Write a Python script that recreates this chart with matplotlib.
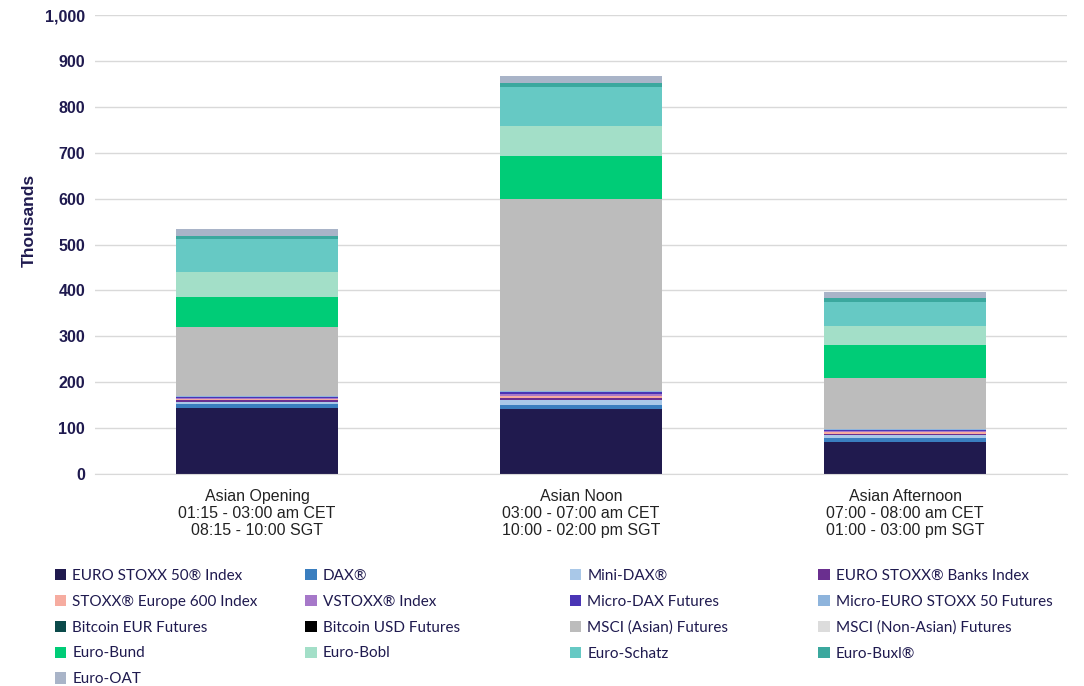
import matplotlib.pyplot as plt
import numpy as np

# --- Data (thousands) ---
sessions = ['Asian Opening\n01:15 - 03:00 am CET\n08:15 - 10:00 SGT',
            'Asian Noon\n03:00 - 07:00 am CET\n10:00 - 02:00 pm SGT',
            'Asian Afternoon\n07:00 - 08:00 am CET\n01:00 - 03:00 pm SGT']

products = ['EURO STOXX 50\u00ae Index', 'DAX\u00ae', 'Mini-DAX\u00ae', 'EURO STOXX\u00ae Banks Index',
            'STOXX\u00ae Europe 600 Index', 'VSTOXX\u00ae Index', 'Micro-DAX Futures',
            'Micro-EURO STOXX 50 Futures', 'Bitcoin EUR Futures', 'Bitcoin USD Futures',
            'MSCI (Asian) Futures', 'MSCI (Non-Asian) Futures', 'Euro-Bund', 'Euro-Bobl',
            'Euro-Schatz', 'Euro-Buxl\u00ae', 'Euro-OAT']

euro_stoxx50 = [143, 141, 70]
dax = [9, 9, 9]
mini_dax = [6, 11, 6]
banks = [3, 5, 3]
stoxx600 = [3, 4, 3]
vstoxx = [2, 4, 2]
micro_dax = [2, 5, 3]
micro_esx50 = [2, 1, 2]
btc_eur = [0.3, 0.3, 0.3]
btc_usd = [0.3, 0.3, 0.3]
msci_asian = [150, 418, 111]
msci_non_asian = [0.5, 0.5, 0.5]
bund = [65, 93, 70]
bobl = [55, 66, 43]
schatz = [70, 86, 52]
buxl = [8, 9, 9]
oat = [14, 14, 13]

series = [euro_stoxx50, dax, mini_dax, banks, stoxx600, vstoxx, micro_dax, micro_esx50,
          btc_eur, btc_usd, msci_asian, msci_non_asian, bund, bobl, schatz, buxl, oat]

colors = ['#201a4e', '#3a7ebf', '#a9c8e8', '#6a2f8f', '#f6aca0', '#a678c9', '#4a35b5',
          '#8eb4dc', '#0b4a4a', '#000000', '#bcbcbc', '#dcdcdc', '#00cc77', '#a3dfc8',
          '#66c9c4', '#3ba89e', '#a9b4c8']

plt.rcParams['font.family'] = ['Liberation Sans', 'DejaVu Sans']

fig = plt.figure(figsize=(10.84, 6.86), dpi=100)
ax = fig.add_axes([0.0876, 0.309, 0.897, 0.669])

x = np.arange(len(sessions))
bottom = np.zeros(len(sessions))
handles = []
for name, vals, c in zip(products, series, colors):
    b = ax.bar(x, vals, 0.5, bottom=bottom, color=c, label=name, edgecolor='none')
    handles.append(b)
    bottom += np.array(vals)

ax.set_xlim(-0.5, 2.5)
ax.set_ylim(0, 1000)
ax.set_yticks(np.arange(0, 1001, 100))
ax.set_yticklabels([f'{v:,}' for v in range(0, 1001, 100)], fontsize=11.5,
                   fontweight='bold', color='#1f1a4f')
ax.set_xticks(x)
ax.set_xticklabels(sessions, fontsize=11.5, color='#222222', linespacing=1.15)
ax.tick_params(axis='both', length=0)
ax.tick_params(axis='y', pad=7)
ax.tick_params(axis='x', pad=11)
ax.grid(axis='y', color='#d9d9d9', linewidth=1)
ax.set_axisbelow(True)
for s in ['top', 'right', 'left']:
    ax.spines[s].set_visible(False)
ax.spines['bottom'].set_color('#d9d9d9')
ax.set_ylabel('Thousands', fontsize=12.5, fontweight='bold', color='#1f1a4f')
ax.yaxis.set_label_coords(-0.06, 0.553)

# legend: four fixed-position columns, filled row by row
col_x = [0.0378, 0.269, 0.513, 0.742]
for c in range(4):
    idx = list(range(c, len(products), 4))
    leg = fig.legend(handles=[handles[i] for i in idx], labels=[products[i] for i in idx],
                     loc='upper left', bbox_to_anchor=(col_x[c], 0.191), frameon=False,
                     handlelength=0.75, handleheight=0.75, handletextpad=0.4,
                     labelspacing=0.78, prop={'family': 'Lato', 'size': 11})
    for t in leg.get_texts():
        t.set_color('#1f1a4f')

fig.savefig('out.png', dpi=100)
